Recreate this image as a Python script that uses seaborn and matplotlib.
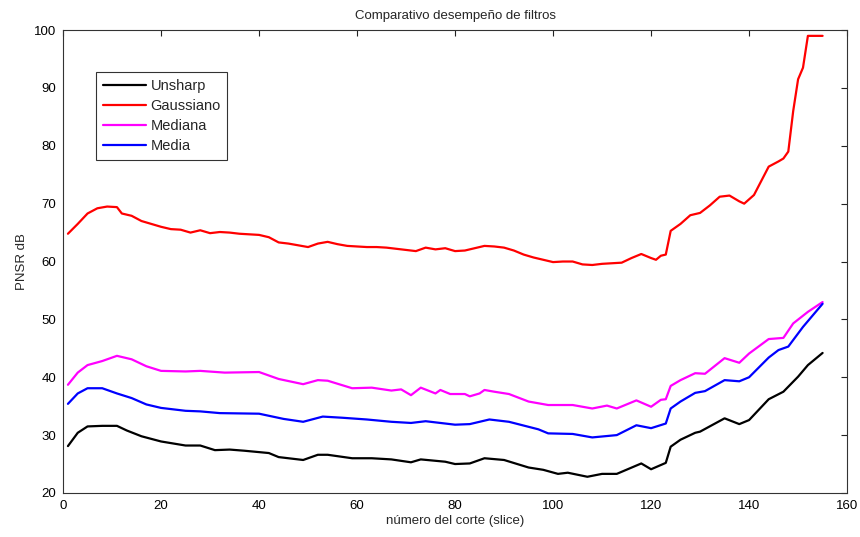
import numpy as np
import pandas as pd
import matplotlib
matplotlib.use("Agg")
import matplotlib.pyplot as plt
import seaborn as sns

# ---- data ----
series_names = ["Unsharp", "Gaussiano", "Mediana", "Media"]
series_colors = ["#000000", "#ff0000", "#ff00ff", "#0000ff"]

gauss_x = [1, 3, 5, 7, 9, 11, 12, 14, 16, 18, 20, 22, 24, 26, 28, 30, 32, 34, 36, 38, 40, 42, 44, 46, 48, 50,
           52, 54, 56, 58, 60, 62, 64, 66, 68, 70, 72, 74, 76, 78, 80, 82, 84, 86, 88, 90, 92, 94, 96, 98, 100,
           102, 104, 106, 108, 110, 112, 114, 116, 118, 120, 121, 122, 123, 124, 126, 128, 130, 132, 134, 136,
           138, 139, 141, 144, 146, 147, 148, 149, 150, 151, 152, 155]
gauss_y = [64.8, 66.5, 68.3, 69.2, 69.5, 69.4, 68.3, 67.9, 67.0, 66.5, 66.0, 65.6, 65.5, 65.0, 65.4, 64.9, 65.1,
           65.0, 64.8, 64.7, 64.6, 64.2, 63.3, 63.1, 62.8, 62.5, 63.1, 63.4, 63.0, 62.7, 62.6, 62.5, 62.5, 62.4,
           62.2, 62.0, 61.8, 62.4, 62.1, 62.3, 61.8, 61.9, 62.3, 62.7, 62.6, 62.4, 61.9, 61.2, 60.7, 60.3, 59.9,
           60.0, 60.0, 59.5, 59.4, 59.6, 59.7, 59.8, 60.6, 61.3, 60.6, 60.3, 61.0, 61.2, 65.3, 66.5, 68.0, 68.4,
           69.7, 71.2, 71.4, 70.4, 70.0, 71.5, 76.4, 77.3, 77.8, 79.0, 86.0, 91.5, 93.5, 99.0, 99.0]

median_x = [1, 3, 5, 8, 11, 14, 17, 20, 25, 28, 33, 40, 44, 49, 52, 54, 59, 63, 67, 69, 71, 73, 76, 77, 79, 82,
            83, 85, 86, 88, 91, 95, 99, 104, 108, 111, 113, 117, 120, 122, 123, 124, 126, 129, 131, 135, 138,
            140, 144, 147, 149, 152, 155]
median_y = [38.7, 40.8, 42.1, 42.8, 43.7, 43.1, 41.9, 41.1, 41.0, 41.1, 40.8, 40.9, 39.7, 38.8, 39.5, 39.4, 38.1,
            38.2, 37.7, 37.9, 36.9, 38.2, 37.2, 37.8, 37.1, 37.1, 36.7, 37.2, 37.8, 37.5, 37.1, 35.8, 35.2, 35.2,
            34.6, 35.1, 34.6, 36.0, 34.9, 36.1, 36.2, 38.5, 39.5, 40.7, 40.6, 43.3, 42.5, 44.1, 46.6, 46.8, 49.3,
            51.3, 53.0]

mean_x = [1, 3, 5, 8, 11, 14, 17, 20, 25, 28, 32, 40, 45, 49, 53, 57, 62, 67, 71, 74, 80, 83, 87, 91, 97, 99,
          104, 108, 113, 117, 120, 123, 124, 126, 129, 131, 135, 138, 140, 144, 146, 148, 151, 155]
mean_y = [35.4, 37.2, 38.1, 38.1, 37.2, 36.4, 35.3, 34.7, 34.2, 34.1, 33.8, 33.7, 32.8, 32.3, 33.2, 33.0, 32.7,
          32.3, 32.1, 32.4, 31.8, 31.9, 32.7, 32.3, 31.0, 30.3, 30.2, 29.6, 30.0, 31.7, 31.2, 32.0, 34.6, 35.8,
          37.3, 37.6, 39.5, 39.3, 40.0, 43.4, 44.7, 45.3, 48.7, 52.7]

unsharp_x = [1, 3, 5, 8, 11, 13, 16, 20, 25, 28, 31, 34, 37, 42, 44, 49, 52, 54, 59, 63, 67, 71, 73, 78, 80, 83,
             86, 90, 95, 98, 101, 103, 107, 110, 113, 118, 120, 123, 124, 126, 129, 130, 135, 138, 140, 144, 147,
             150, 152, 155]
unsharp_y = [28.1, 30.4, 31.5, 31.6, 31.6, 30.8, 29.8, 28.9, 28.2, 28.2, 27.4, 27.5, 27.3, 26.9, 26.2, 25.7, 26.6,
             26.6, 26.0, 26.0, 25.8, 25.3, 25.8, 25.4, 25.0, 25.1, 26.0, 25.7, 24.4, 24.0, 23.3, 23.5, 22.8, 23.3,
             23.3, 25.1, 24.1, 25.2, 28.0, 29.2, 30.4, 30.6, 32.9, 31.9, 32.6, 36.2, 37.5, 40.1, 42.1, 44.2]

x_ticks = [0, 20, 40, 60, 80, 100, 120, 140, 160]
y_ticks = [20, 30, 40, 50, 60, 70, 80, 90, 100]

# ---- long-form table ----
frames = []
for name, xs, ys in [("Unsharp", unsharp_x, unsharp_y), ("Gaussiano", gauss_x, gauss_y),
                     ("Mediana", median_x, median_y), ("Media", mean_x, mean_y)]:
    frames.append(pd.DataFrame({"slice": xs, "psnr": ys, "filtro": name}))
df = pd.concat(frames, ignore_index=True)

sns.set_style("white")
plt.rcParams["font.family"] = ["Liberation Sans", "DejaVu Sans"]

fig = plt.figure(figsize=(8.6, 5.37), dpi=100)
ax = fig.add_axes([0.0733, 0.082, 0.9117, 0.862])

sns.lineplot(data=df, x="slice", y="psnr", hue="filtro", hue_order=series_names,
             palette=dict(zip(series_names, series_colors)), estimator=None, sort=False,
             linewidth=1.6, ax=ax)

ax.set_xlim(0, 160)
ax.set_ylim(20, 100)
ax.set_xticks(x_ticks)
ax.set_yticks(y_ticks)
ax.tick_params(direction="in", length=4.5, width=0.8, top=True, right=True,
               labelsize=9.5, colors="#222222", labelcolor="black", pad=5)
for s in ax.spines.values():
    s.set_visible(True)
    s.set_color("#333333")
    s.set_linewidth(0.8)

ax.set_xlabel("número del corte (slice)", fontsize=9.5, labelpad=2)
ax.set_ylabel("PNSR dB", fontsize=9.5, labelpad=4)
ax.set_title("Comparativo desempeño de filtros", fontsize=9.5, pad=8)

leg = ax.legend(loc="upper left", bbox_to_anchor=(0.042, 0.909), fontsize=10.5,
                frameon=True, fancybox=False, handlelength=3.0, borderpad=0.45,
                labelspacing=0.42, handletextpad=0.3, borderaxespad=0)
leg.get_frame().set_edgecolor("black")
leg.get_frame().set_linewidth(0.8)
for line in leg.get_lines():
    line.set_linewidth(1.6)

fig.savefig("out.png", dpi=100, facecolor="white")
